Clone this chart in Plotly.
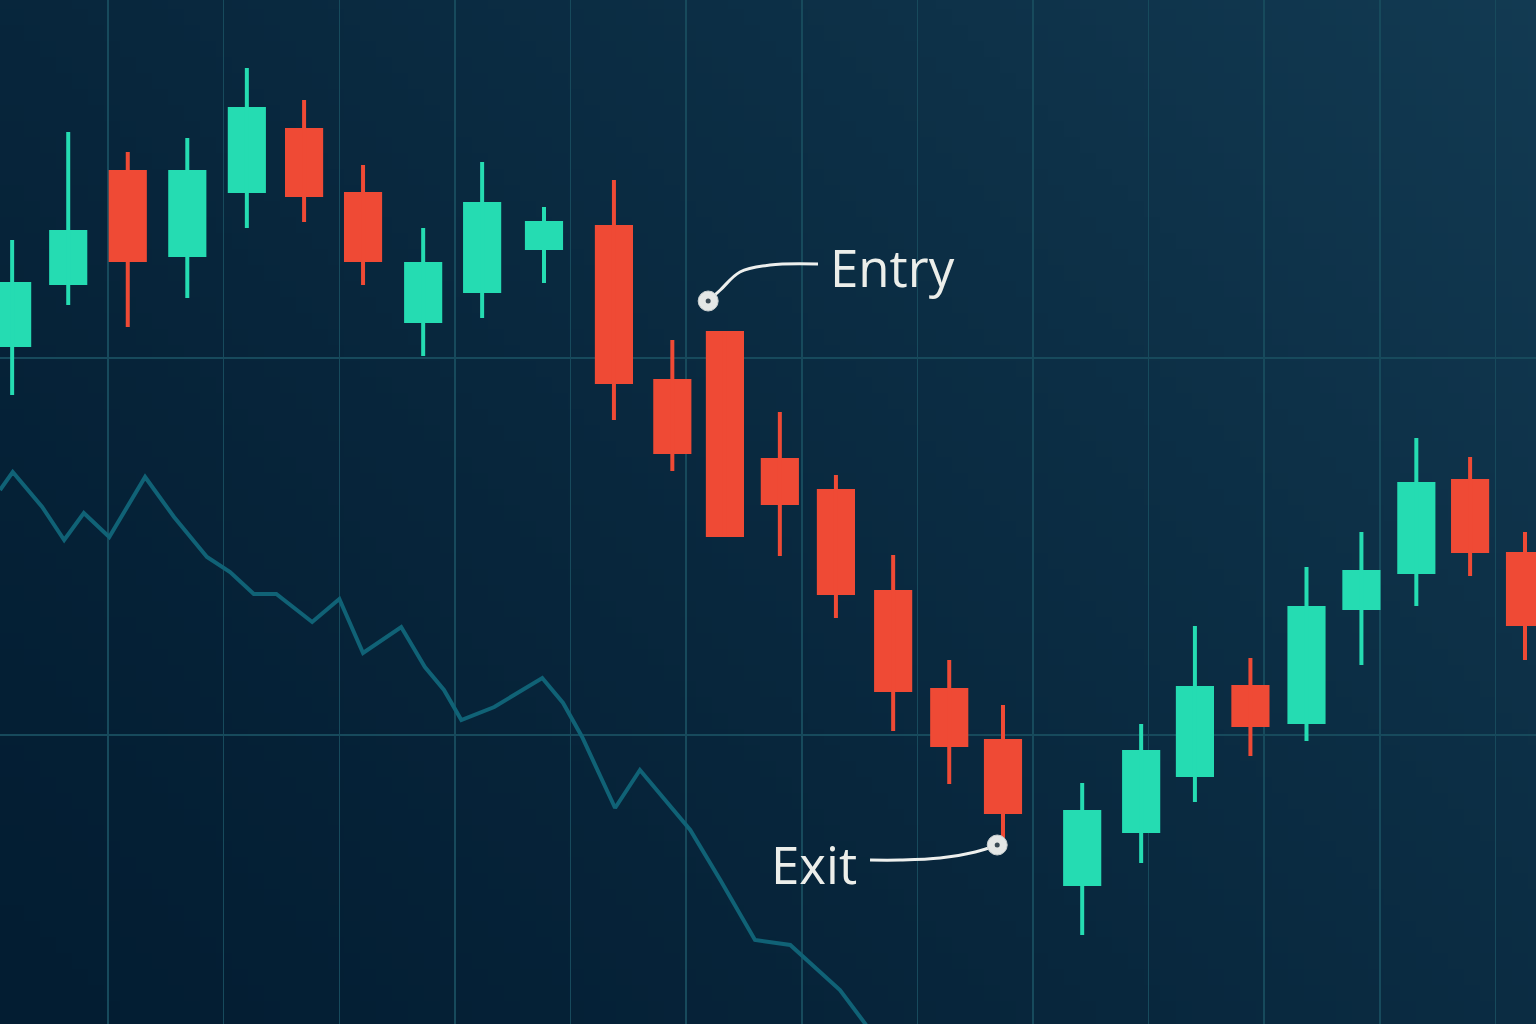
import base64, struct, zlib
import plotly.graph_objects as go

# ---------------- data (time index units, price units) ----------------
cx = [0.21, 1.18, 2.21, 3.24, 4.27, 5.26, 6.28, 7.32, 8.34, 9.41, 10.62, 11.63, 12.54,
      13.49, 14.46, 15.45, 16.42, 17.35, 18.72, 19.74, 20.67, 21.63, 22.60, 23.55,
      24.50, 25.43, 26.38]
c_open = [75.3, 81.5, 93.0, 84.3, 90.7, 97.2, 90.8, 77.7, 80.7, 85.0, 87.5, 72.1, 76.9,
          64.2, 61.1, 51.0, 41.2, 36.1, 21.4, 26.7, 32.3, 41.5, 37.6, 49.0, 52.6, 62.1, 54.8]
c_high = [86.0, 96.8, 94.8, 96.2, 103.2, 100.0, 93.5, 87.2, 93.8, 89.3, 92.0, 76.0, 76.9,
          68.8, 62.5, 54.5, 44.0, 39.5, 31.7, 37.6, 47.4, 44.2, 53.3, 56.8, 66.2, 64.3, 56.8]
c_low = [70.5, 79.5, 77.3, 80.2, 87.2, 87.8, 81.5, 74.4, 78.2, 81.7, 68.0, 62.9, 56.3,
         54.4, 48.2, 36.9, 31.6, 26.2, 16.5, 23.7, 29.8, 34.4, 35.9, 43.5, 49.4, 52.4, 44.0]
c_close = [81.8, 87.0, 83.8, 93.0, 99.3, 90.3, 83.8, 83.8, 89.8, 87.9, 71.6, 64.6, 56.3,
           59.5, 50.5, 40.8, 35.3, 28.6, 29.0, 35.0, 41.4, 37.3, 49.4, 53.0, 61.8, 54.7, 47.4]

line_x = [0, 0.22, 0.73, 1.11, 1.45, 1.89, 2.51, 3.01, 3.58, 3.98, 4.39, 4.78, 5.40, 5.87,
          6.28, 6.94, 7.35, 7.68, 7.98, 8.55, 9.38, 9.74, 10.07, 10.64, 11.07, 11.94, 12.46,
          13.06, 13.67, 14.53, 14.97, 15.22]
line_y = [61.0, 62.8, 59.3, 56.0, 58.7, 56.3, 62.3, 58.3, 54.3, 52.8, 50.6, 50.6, 47.8, 50.1,
          44.7, 47.3, 43.3, 41.0, 38.0, 39.3, 42.2, 39.7, 36.3, 29.2, 33.0, 27.0, 22.0,
          16.0, 15.5, 11.0, 7.6, 5.0]

entry_label = "Entry"
entry_point = (12.25, 79.9)
entry_path_x = [12.25, 12.46, 12.80, 13.32, 14.15]
entry_path_y = [79.9, 81.0, 82.8, 83.5, 83.6]
entry_text_pos = (14.33, 83.3)

exit_label = "Exit"
exit_point = (17.25, 25.5)
exit_path_x = [17.25, 16.87, 16.26, 15.57, 15.05]
exit_path_y = [25.5, 24.8, 24.2, 24.0, 24.0]
exit_text_pos = (14.86, 23.6)

X_RANGE = [0, 26.57]
Y_RANGE = [7.6, 110.0]

GREEN = "#25dcb2"
RED = "#ef4a35"

# ---------------- background gradient image ----------------
def make_png(w, h, c0, c1):
    raw = bytearray()
    for j in range(h):
        raw.append(0)
        v = j / (h - 1)
        for i in range(w):
            u = i / (w - 1)
            t = (u * 0.6 + (1 - v) * 0.4)
            t = max(0.0, min(1.0, t)) ** 1.3
            for k in range(3):
                raw.append(int(round(c0[k] + (c1[k] - c0[k]) * t)))
    def chunk(tag, data):
        return (struct.pack(">I", len(data)) + tag + data +
                struct.pack(">I", zlib.crc32(tag + data) & 0xffffffff))
    png = b"\x89PNG\r\n\x1a\n"
    png += chunk(b"IHDR", struct.pack(">IIBBBBB", w, h, 8, 2, 0, 0, 0))
    png += chunk(b"IDAT", zlib.compress(bytes(raw), 9))
    png += chunk(b"IEND", b"")
    return "data:image/png;base64," + base64.b64encode(png).decode()

bg = make_png(96, 64, (3, 29, 50), (18, 58, 82))

fig = go.Figure()

# trend line
fig.add_trace(go.Scatter(x=line_x, y=line_y, mode="lines",
                         line=dict(color="#106276", width=4), hoverinfo="skip"))

# wicks and bodies
for is_up, col in ((True, GREEN), (False, RED)):
    idx = [i for i in range(len(cx)) if (c_close[i] >= c_open[i]) == is_up]
    wx, wy = [], []
    for i in idx:
        wx += [cx[i], cx[i], None]
        wy += [c_low[i], c_high[i], None]
    fig.add_trace(go.Scatter(x=wx, y=wy, mode="lines",
                             line=dict(color=col, width=4), hoverinfo="skip"))
    fig.add_trace(go.Bar(x=[cx[i] for i in idx],
                         y=[abs(c_close[i] - c_open[i]) for i in idx],
                         base=[min(c_open[i], c_close[i]) for i in idx],
                         width=0.66, marker=dict(color=col, line=dict(width=0)),
                         hoverinfo="skip"))

# annotation connectors
for px_, py_ in ((entry_path_x, entry_path_y), (exit_path_x, exit_path_y)):
    fig.add_trace(go.Scatter(x=px_, y=py_, mode="lines",
                             line=dict(color="#eef0ee", width=3, shape="spline", smoothing=1.0),
                             hoverinfo="skip"))
for pt in (entry_point, exit_point):
    fig.add_trace(go.Scatter(x=[pt[0]], y=[pt[1]], mode="markers",
                             marker=dict(size=20, color="#e4e7e6",
                                         line=dict(color="#c9cfd0", width=1)),
                             hoverinfo="skip"))
    fig.add_trace(go.Scatter(x=[pt[0]], y=[pt[1]], mode="markers",
                             marker=dict(size=5, color="#3a4a55"), hoverinfo="skip"))

fig.add_annotation(x=entry_text_pos[0], y=entry_text_pos[1], text=entry_label,
                   xref="x", yref="y", showarrow=False, xanchor="left", yanchor="middle",
                   font=dict(family="Open Sans", size=51, color="#eceeea"))
fig.add_annotation(x=exit_text_pos[0], y=exit_text_pos[1], text=exit_label,
                   xref="x", yref="y", showarrow=False, xanchor="right", yanchor="middle",
                   font=dict(family="Open Sans", size=51, color="#eceeea"))

fig.update_layout(
    width=1536, height=1024, margin=dict(l=0, r=0, t=0, b=0),
    paper_bgcolor="#0a2840", plot_bgcolor="rgba(0,0,0,0)",
    showlegend=False, barmode="overlay",
    images=[dict(source=bg, xref="paper", yref="paper", x=0, y=1, sizex=1, sizey=1,
                 sizing="stretch", layer="below", xanchor="left", yanchor="top")],
    xaxis=dict(range=X_RANGE, showticklabels=False, zeroline=False, showline=False,
               showgrid=True, gridcolor="#174a5c", gridwidth=1.5, tick0=1.869, dtick=2,
               ticks=""),
    yaxis=dict(range=Y_RANGE, showticklabels=False, zeroline=False, showline=False,
               showgrid=True, gridcolor="#174a5c", gridwidth=1.5, tick0=36.5, dtick=37.7,
               ticks=""),
)

fig.write_html("out.html", config={"displayModeBar": False, "staticPlot": True},
               post_script="document.body.style.margin='0';"
                           "document.body.style.overflow='hidden';"
                           "document.body.style.background='#0a2840';")
